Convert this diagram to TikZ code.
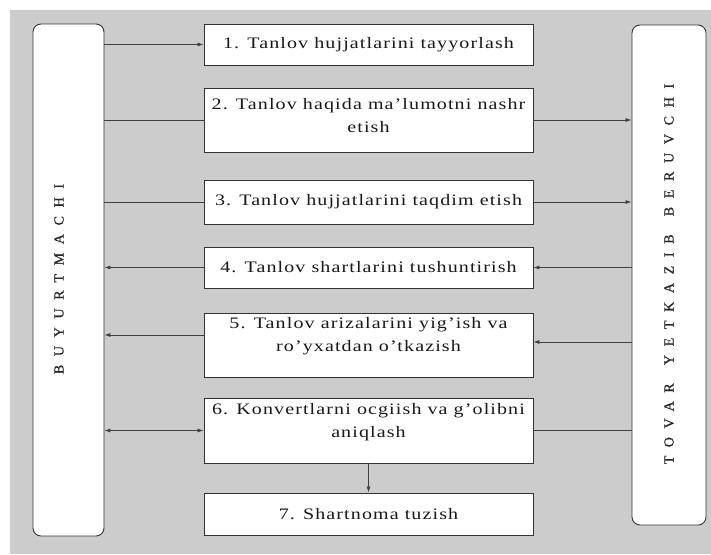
\documentclass[tikz,border=0pt]{standalone}
\usepackage{fontspec}
\setmainfont{Liberation Serif}
\newfontfamily\boxfont[LetterSpace=7,FakeStretch=1.25]{Liberation Serif}
\newfontfamily\sidefont[LetterSpace=62,FakeBold=0.6]{Liberation Serif}
\usetikzlibrary{arrows.meta}
\begin{document}
\begin{tikzpicture}[x=1pt,y=-1pt,
  stepbox/.style={draw=black!80, line width=0.9pt, fill=white, minimum width=329pt,
    align=center, inner sep=0pt, text=black!90, font=\boxfont\fontsize{16}{23}\selectfont},
  side/.style={draw=black!80, line width=0.9pt, fill=white, rounded corners=8pt, inner sep=0pt},
  sidelabel/.style={rotate=90, text=black!85, font=\sidefont\fontsize{14}{16}\selectfont},
  conn/.style={draw=black!75, line width=0.7pt},
  arr/.style={-{Latex[length=6pt,width=4pt]}},
  rarr/.style={{Latex[length=6pt,width=4pt]}-},
  darr/.style={{Latex[length=6pt,width=4pt]}-{Latex[length=6pt,width=4pt]}}
]
\useasboundingbox (0,0) rectangle (711,554);
\fill[black!20] (10,10) rectangle (711,554);

\node[side, minimum width=71pt, minimum height=512pt] (L) at (68.5,280) {};
\node[side, minimum width=74pt, minimum height=500pt] (R) at (669,275) {};
\node[sidelabel] (Ltext) at (59,279) {BUYURTMACHI};
\node[sidelabel] (Rtext) at (669,274) {TOVAR\hspace{6pt} YETKAZIB\hspace{6pt} BERUVCHI};

\node[stepbox, minimum height=41pt] (b1) at (368.5,44.5) {1. Tanlov hujjatlarini tayyorlash};
\node[stepbox, minimum height=64pt, text depth=10pt] (b2) at (368.5,120) {2. Tanlov haqida ma’lumotni nashr\\etish};
\node[stepbox, minimum height=44pt] (b3) at (368.5,202) {3. Tanlov hujjatlarini taqdim etish};
\node[stepbox, minimum height=41pt] (b4) at (368.5,267.5) {4. Tanlov shartlarini tushuntirish};
\node[stepbox, minimum height=64pt, text depth=22pt] (b5) at (368.5,345) {5. Tanlov arizalarini yig’ish va\\ro’yxatdan o’tkazish};
\node[stepbox, minimum height=65pt, text depth=20pt] (b6) at (368.5,430.5) {6. Konvertlarni ocgiish va g’olibni\\aniqlash};
\node[stepbox, minimum height=42pt] (b7) at (368.5,514) {7. Shartnoma tuzish};

\coordinate (b5l) at ([yshift=10pt]b5.west);
\coordinate (b5r) at ([yshift=3pt]b5.east);

\draw[conn,arr] (L.east |- b1.west) -- (b1.west);
\draw[conn] (L.east |- b2.west) -- (b2.west);
\draw[conn,arr] (b2.east) -- (R.west |- b2.east);
\draw[conn] (L.east |- b3.west) -- (b3.west);
\draw[conn,arr] (b3.east) -- (R.west |- b3.east);
\draw[conn,rarr] (L.east |- b4.west) -- (b4.west);
\draw[conn,rarr] (b4.east) -- (R.west |- b4.east);
\draw[conn,rarr] (L.east |- b5l) -- (b5l);
\draw[conn,rarr] (b5r) -- (R.west |- b5r);
\draw[conn,darr] (L.east |- b6.west) -- (b6.west);
\draw[conn] (b6.east) -- (R.west |- b6.east);
\draw[conn,arr] (b6.south) -- (b7.north);
\end{tikzpicture}
\end{document}
